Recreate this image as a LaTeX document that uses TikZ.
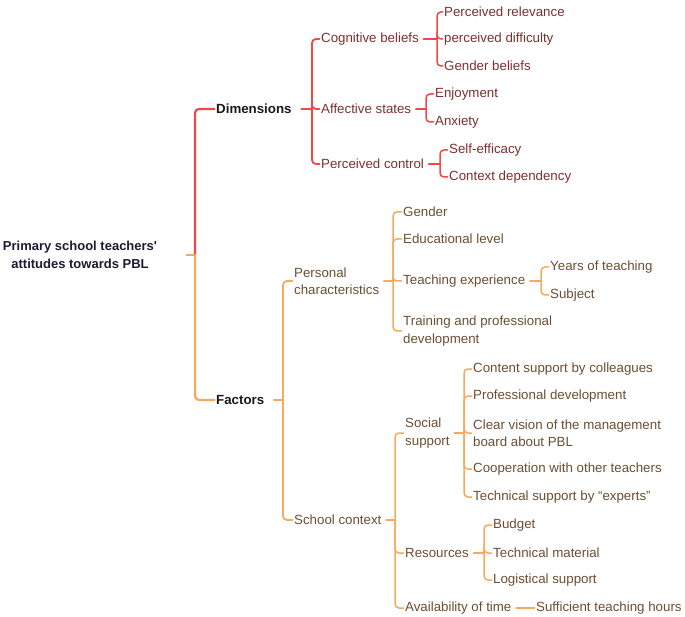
\documentclass[tikz,border=0pt]{standalone}
\usepackage{fontspec}
\setmainfont{Liberation Sans}
\newfontfamily\rootfont{Liberation Sans}
\definecolor{redline}{HTML}{F04848}
\definecolor{redtext}{HTML}{7E2F2F}
\definecolor{orline}{HTML}{F5AA5E}
\definecolor{ortext}{HTML}{6B4E31}
\definecolor{roottext}{HTML}{1C1B33}
\begin{document}
\begin{tikzpicture}[x=1pt,y=-1pt,
  every node/.style={font=\fontsize{13.3}{17.5}\selectfont, inner xsep=1.5pt, inner ysep=1pt},
  rtx/.style={anchor=west, text=redtext, align=left},
  otx/.style={anchor=west, text=ortext, align=left},
  btx/.style={anchor=west, text=black!90, font=\fontsize{13.3}{17.5}\selectfont\bfseries},
  rootbox/.style={text=roottext, align=center, font=\rootfont\fontsize{13}{17.5}\selectfont\bfseries},
  lone/.style={line width=2.2pt},
  ltwo/.style={line width=1.8pt},
  lthree/.style={line width=1.5pt},
  rl/.style={draw=redline, line cap=round},
  ol/.style={draw=orline, line cap=round},
  br/.style={rounded corners=4pt},
  stub/.style={shorten <=3pt}
]
\useasboundingbox (0,0) rectangle (685,617);
\begin{scope}[yshift=-2pt]
% root
\node[rootbox] (root) at (80,253) {Primary school teachers'\\attitudes towards PBL};
\coordinate (B0) at (195,253);

% level 1
\node[btx] (dim) at (214.5,107) {Dimensions};
\node[btx] (fac) at (214.5,398) {Factors};

% Dimensions branch
\coordinate (Bdim) at (312,107);
\node[rtx] (cog) at (319.5,37) {Cognitive beliefs};
\node[rtx] (aff) at (319.5,107) {Affective states};
\node[rtx] (pc)  at (319.5,162) {Perceived control};

\coordinate (Bcog) at (437,37);
\node[rtx] (c1) at (442.5,10) {Perceived relevance};
\node[rtx] (c2) at (442.5,37) {perceived difficulty};
\node[rtx] (c3) at (442.5,64) {Gender beliefs};

\coordinate (Baff) at (426,107);
\node[rtx] (a1) at (433.5,92) {Enjoyment};
\node[rtx] (a2) at (433.5,120) {Anxiety};

\coordinate (Bpc) at (440,162);
\node[rtx] (p1) at (447.5,148) {Self-efficacy};
\node[rtx] (p2) at (447.5,175) {Context dependency};

% Factors branch
\coordinate (Bfac) at (283,398);
\node[otx] (pers) at (292.5,279) {Personal\\characteristics};
\node[otx] (sc)   at (292.5,518) {School context};

\coordinate (Bpers) at (393,279);
\node[otx] (g1) at (401.5,210) {Gender};
\node[otx] (g2) at (401.5,237) {Educational level};
\node[otx] (g3) at (401.5,279) {Teaching experience};
\node[otx] (g4) at (401.5,329) {Training and professional\\development};

\coordinate (Bte) at (541,279);
\node[otx] (t1) at (548.5,265) {Years of teaching};
\node[otx] (t2) at (548.5,293) {Subject};

\coordinate (Bsc) at (395,518);
\node[otx] (ss)  at (403.5,431) {Social\\support};
\node[otx] (res) at (403.5,551) {Resources};
\node[otx] (av)  at (403.5,606) {Availability of time};

\coordinate (Bss) at (464,431);
\node[otx] (s1) at (471.5,367) {Content support by colleagues};
\node[otx] (s2) at (471.5,394) {Professional development};
\node[otx] (s3) at (471.5,431) {Clear vision of the management\\board about PBL};
\node[otx] (s4) at (471.5,467) {Cooperation with other teachers};
\node[otx] (s5) at (471.5,495) {Technical support by “experts”};

\coordinate (Bres) at (484,551);
\node[otx] (r1) at (491.5,523) {Budget};
\node[otx] (r2) at (491.5,551) {Technical material};
\node[otx] (r3) at (491.5,578) {Logistical support};

\node[otx] (sth) at (534.5,606) {Sufficient teaching hours};

% connectors: root
\draw[ol,lone,shorten <=28pt] (root.east) -- (B0);
\draw[rl,lone,br] (B0) |- (dim.west);
\draw[ol,lone,br] (B0) |- (fac.west);

% Dimensions
\draw[rl,ltwo,shorten <=8pt] (dim.east) -- (Bdim);
\foreach \c in {cog,aff,pc} \draw[rl,ltwo,br] (Bdim) |- (\c.west);
\draw[rl,lthree,stub] (cog.east) -- (Bcog);
\foreach \c in {c1,c2,c3} \draw[rl,lthree,br] (Bcog) |- (\c.west);
\draw[rl,lthree,stub] (aff.east) -- (Baff);
\foreach \c in {a1,a2} \draw[rl,lthree,br] (Baff) |- (\c.west);
\draw[rl,lthree,stub] (pc.east) -- (Bpc);
\foreach \c in {p1,p2} \draw[rl,lthree,br] (Bpc) |- (\c.west);

% Factors
\draw[ol,ltwo,shorten <=8pt] (fac.east) -- (Bfac);
\foreach \c in {pers,sc} \draw[ol,ltwo,br] (Bfac) |- (\c.west);
\draw[ol,lthree,stub] (pers.east) -- (Bpers);
\foreach \c in {g1,g2,g3,g4} \draw[ol,lthree,br] (Bpers) |- (\c.west);
\draw[ol,lthree,stub] (g3.east) -- (Bte);
\foreach \c in {t1,t2} \draw[ol,lthree,br] (Bte) |- (\c.west);
\draw[ol,lthree,stub] (sc.east) -- (Bsc);
\foreach \c in {ss,res,av} \draw[ol,lthree,br] (Bsc) |- (\c.west);
\draw[ol,lthree,stub] (ss.east) -- (Bss);
\foreach \c in {s1,s2,s3,s4,s5} \draw[ol,lthree,br] (Bss) |- (\c.west);
\draw[ol,lthree,stub] (res.east) -- (Bres);
\foreach \c in {r1,r2,r3} \draw[ol,lthree,br] (Bres) |- (\c.west);
\draw[ol,lthree,stub] (av.east) -- (sth.west);
\end{scope}
\end{tikzpicture}
\end{document}
